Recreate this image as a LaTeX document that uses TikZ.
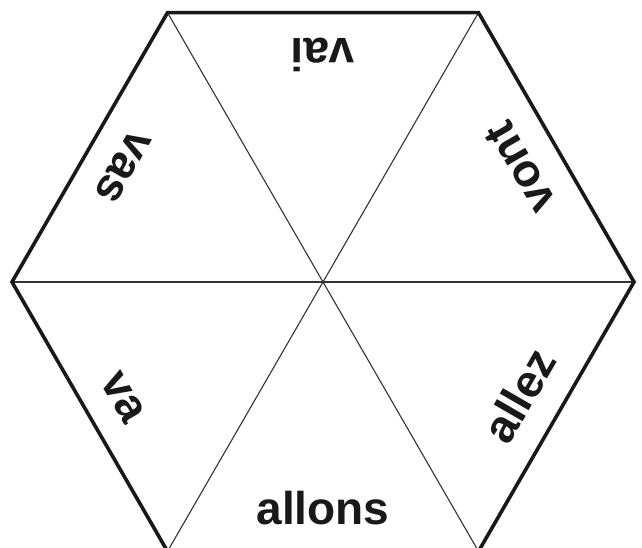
\documentclass[tikz,border=0pt]{standalone}
\usepackage{fontspec}
\setmainfont{Liberation Sans}
\usetikzlibrary{calc}
\begin{document}
\begin{tikzpicture}[x=1pt,y=1pt,
  outer/.style={line width=3.6pt,line join=miter,black!90},
  inner/.style={line width=1.1pt,black!80},
  word/.style={font=\fontsize{46}{50}\selectfont\bfseries,inner sep=0pt,anchor=base,text=black!90}]
\useasboundingbox (0,0) rectangle (642,548);
\clip (0,0) rectangle (642,548);
\coordinate (c) at (323,266);
\foreach \i in {0,...,5}{
  \coordinate (v\i) at ($(c)+(\i*60:311)$);
}
\draw[inner] (v0) -- (v3);
\draw[inner] (v1) -- (v4);
\draw[inner] (v2) -- (v5);
\draw[outer] (v0) -- (v1) -- (v2) -- (v3) -- (v4) -- (v5) -- cycle;
\node[word,rotate=0]   (allons) at ($(c)+(-90:243)$) {allons};
\node[word,rotate=60]  (allez)  at ($(c)+(-30:243)$) {allez};
\node[word,rotate=120] (vont)   at ($(c)+(30:243)$) {vont};
\node[word,rotate=180] (vai)    at ($(c)+(90:243)$) {vai};
\node[word,rotate=240] (vas)    at ($(c)+(150:243)$) {vas};
\node[word,rotate=300] (va)     at ($(c)+(210:243)$) {va};
\end{tikzpicture}
\end{document}
